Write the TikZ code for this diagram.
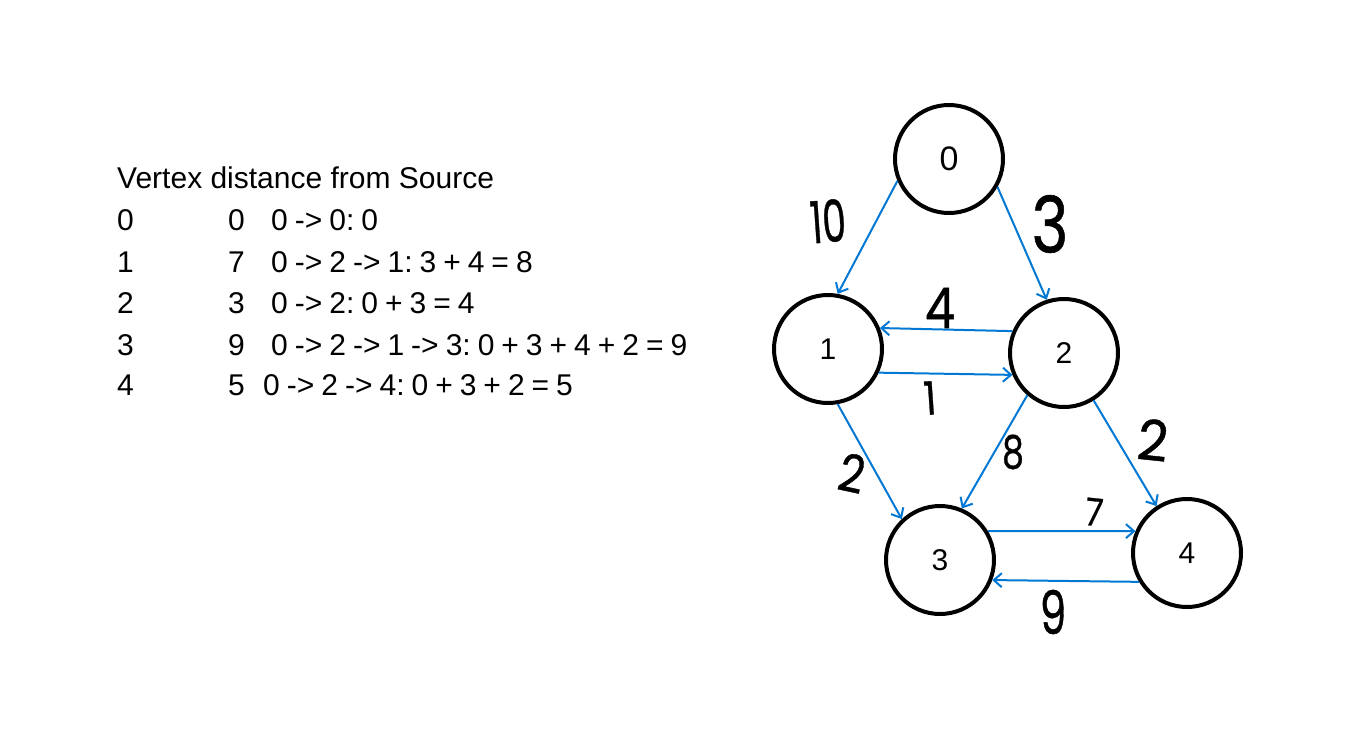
\documentclass[tikz,border=0pt]{standalone}
\usepackage{fontspec}
\setmainfont{Liberation Sans}
\newfontfamily\handfont{Poppins}[FakeBold=0.8]
\usetikzlibrary{arrows.meta}
\definecolor{linkblue}{HTML}{0078D4}
% path column: tighter word spaces
\newcommand\pathfont{\fontsize{30}{30}\selectfont\frenchspacing\spaceskip 7pt\relax}
\begin{document}
\begin{tikzpicture}[x=1pt,y=-1pt,
  vertex/.style={circle,draw=black,line width=4pt,minimum size=108pt,inner sep=0pt,
    font=\fontsize{30}{30}\selectfont},
  link/.style={draw=linkblue,line width=2pt,
    -{Straight Barb[length=8pt,width=14pt,line width=2pt]}},
  wlabel/.style={inner sep=0pt,font=\handfont\fontsize{#1}{#1}\selectfont},
  tabtext/.style={anchor=base west,inner sep=0pt,font=\fontsize{30}{30}\selectfont},
  pathtext/.style={anchor=base west,inner sep=0pt,font=\pathfont}]
\useasboundingbox (0,0) rectangle (1345,734);
\fill[white] (0,0) rectangle (1345,734);

% distance table
\node[tabtext] (title) at (117,188) {Vertex distance from Source};
\node[tabtext] (v0) at (117,230) {0};
\node[tabtext] (d0) at (228,230) {0};
\node[pathtext] (p0) at (271,230) {0 -> 0: 0};
\node[tabtext] (v1) at (117,272) {1};
\node[tabtext] (d1) at (228,272) {7};
\node[pathtext] (p1) at (271,272) {0 -> 2 -> 1: 3 + 4 = 8};
\node[tabtext] (v2) at (117,313) {2};
\node[tabtext] (d2) at (228,313) {3};
\node[pathtext] (p2) at (271,313) {0 -> 2: 0 + 3 = 4};
\node[tabtext] (v3) at (117,355) {3};
\node[tabtext] (d3) at (228,355) {9};
\node[pathtext] (p3) at (271,355) {0 -> 2 -> 1 -> 3: 0 + 3 + 4 + 2 = 9};
\node[tabtext] (v4) at (117,395) {4};
\node[tabtext] (d4) at (228,395) {5};
\node[pathtext] (p4) at (263,395) {0 -> 2 -> 4: 0 + 3 + 2 = 5};

% graph vertices
\node[vertex,font=\fontsize{34}{34}\selectfont] (n0) at (949,159) {0};
\node[vertex] (n1) at (828,349) {1};
\node[vertex] (n2) at (1064,353) {2};
\node[vertex] (n3) at (940,560) {3};
\node[vertex] (n4) at (1187,553) {4};

% directed edges
\draw[link] (n0.203) -- (n1.80);
\draw[link] (n0.330) -- (n2.108);
\draw[link] (n2.157) -- (n1.22);
\draw[link] (n1.335) -- (n2.203);
\draw[link] (n1.280) -- (n3.133);
\draw[link] (n2.229) -- (n3.67);
\draw[link] (n2.302) -- (n4.123);
\draw[link] (n3.31) -- (n4.157);
\draw[link] (n4.211) -- (n3.339);

% edge weights
\node[wlabel=58,rotate=4] (w01) at (828,221) {\scalebox{0.65}[1]{10}};
\node[wlabel=78] (w02) at (1050,224) {\scalebox{0.8}[1]{3}};
\node[wlabel=56] (w21) at (940,308) {\scalebox{0.85}[1]{4}};
\node[wlabel=46,rotate=4] (w12) at (930,398) {\scalebox{0.85}[1]{1}};
\node[wlabel=52,rotate=-12] (w13) at (852,473) {\scalebox{0.85}[1]{2}};
\node[wlabel=46] (w23) at (1013,452) {\scalebox{0.75}[1]{8}};
\node[wlabel=56,rotate=-6] (w24) at (1153,440) {\scalebox{0.95}[1]{2}};
\node[wlabel=38,rotate=-6] (w34) at (1094,512) {\scalebox{0.85}[1]{7}};
\node[wlabel=60] (w43) at (1053,612) {\scalebox{0.7}[1]{9}};
\end{tikzpicture}
\end{document}
